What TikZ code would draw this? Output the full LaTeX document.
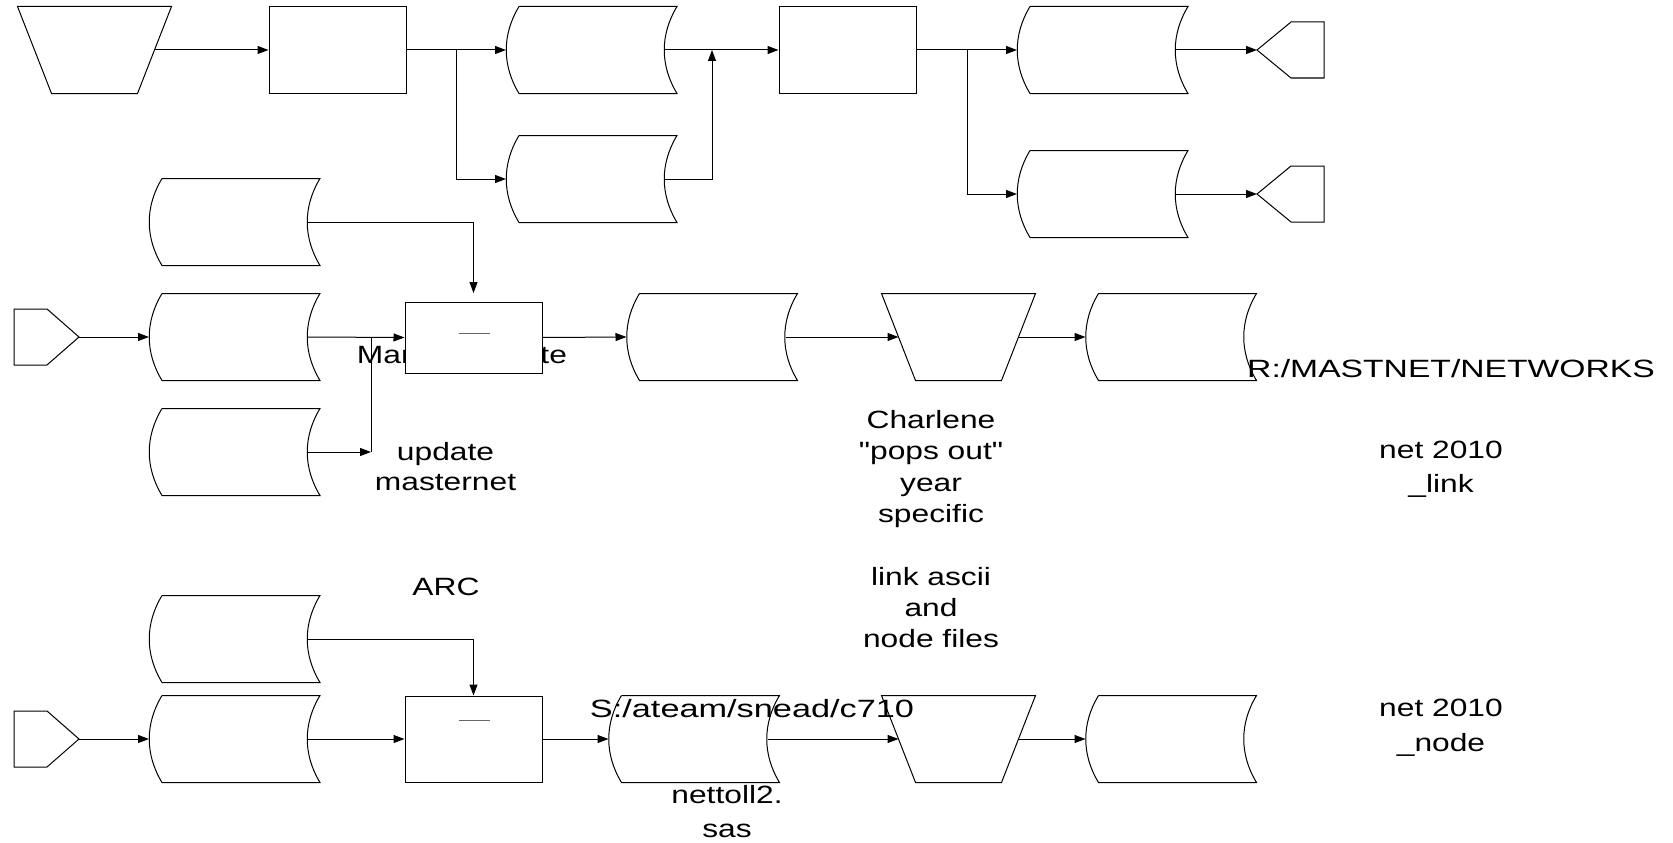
\documentclass[tikz,border=0pt]{standalone}
\usepackage{fontspec}
\setmainfont{Liberation Sans}[Ligatures=TeXOff]
\usetikzlibrary{calc}
\usetikzlibrary{positioning}
\usetikzlibrary{arrows.meta}

\begin{document}
\begin{tikzpicture}[x=1pt,y=-1pt,line width=1pt,>={Triangle[length=11pt,width=8pt]},
  store/.style={minimum width=158,minimum height=86,inner sep=0},
  proc/.style={draw,fill=white,minimum width=137,minimum height=86,inner sep=0},
  manop/.style={minimum width=119,minimum height=86,inner sep=0},
  txt/.style={font=\fontsize{25}{33}\selectfont,align=center,inner sep=0,xscale=1.27}]
\useasboundingbox (0,0) rectangle (1673,843);

% top row
\node[manop] (t1) at (94.5,50) {};
\node[proc] (r1) at (337.5,50) {};
\node[store] (sd1) at (585.5,50) {};
\node[store] (sd2) at (585.5,179) {};
\node[proc] (r2) at (847.5,50) {};
\node[store] (sd3) at (1096.5,50) {};
\node[store] (sd4) at (1096.5,194) {};
\coordinate (b1) at (456,50);
\coordinate (j1) at (712,50);
\coordinate (b2) at (967,50);
\coordinate (out1) at (1257,50);
\coordinate (out2) at (1257,194);

% masternet row
\node[txt,anchor=base] (lblman) at (462,363) {Manual update};
\node[store] (sd5) at (228.5,222) {};
\node[store] (sd6) at (228.5,337) {};
\node[store] (sd7) at (228.5,452) {};
\node[proc,minimum height=71] (r3) at (473.5,337.5) {};
\node[store] (sd8) at (706,337) {};
\node[manop] (t2) at (958.5,337) {};
\node[store] (sd9) at (1165,337) {};
\coordinate (in1) at (79,337);
\coordinate (r3in) at (473.5,293);
\coordinate (j2) at (371,452);
\coordinate (j3) at (371,337);

% node row
\node[store] (sd10) at (228.5,639) {};
\node[store] (sd11) at (228.5,739) {};
\node[proc] (r4) at (473.5,739) {};
\node[store] (sd12) at (688,739) {};
\node[manop] (t3) at (958.5,739) {};
\node[store] (sd13) at (1165,739) {};
\coordinate (in2) at (79,739);

% stored data outlines
\foreach \s in {sd1,sd2,sd3,sd4,sd5,sd6,sd7,sd8,sd9,sd10,sd11,sd12,sd13}
  \draw ($(\s.north west)+(13,0)$) -- ($(\s.north east)+(12,0)$)
    .. controls +(-17,28) and +(-17,-28) .. ($(\s.south east)+(12,0)$)
    -- ($(\s.south west)+(13,0)$)
    .. controls +(-17,-28) and +(-17,28) .. ($(\s.north west)+(13,0)$);

% manual operation outlines
\foreach \t in {t1,t2,t3}
  \draw ($(\t.north west)+(-17,0)$) -- ($(\t.north east)+(17,0)$)
    -- ($(\t.south east)+(-17,0)$) -- ($(\t.south west)+(17,0)$) -- cycle;

% off page connectors
\foreach \c in {in1,in2}
  \draw (\c) -- ++(-32,-28) -- ++(-33,0) -- ++(0,56) -- ++(33,0) -- cycle;
\foreach \c in {out1,out2}
  \draw (\c) -- ++(34,-28) -- ++(33,0) -- ++(0,56) -- ++(-33,0) -- cycle;

\draw[black!60] ($(r3.north)+(-15,32)$) -- +(31,0);
\draw[black!60] ($(r4.north)+(-15,25)$) -- +(31,0);

% connectors
\draw[->] (t1.east) -- (r1.west);
\draw[->] (r1.east) -- (sd1.west);
\draw[->] (b1) |- (sd2.west);
\draw[->] (sd1.east) -- (r2.west);
\draw[->] (sd2.east) -| (j1);
\draw[->] (r2.east) -- (sd3.west);
\draw[->] (b2) |- (sd4.west);
\draw[->] (sd3.east) -- (out1);
\draw[->] (sd4.east) -- (out2);

\draw[->] (sd5.east) -| (r3in);
\draw[->] (in1) -- (sd6.west);
\draw[->] (sd6.east) -- (r3.west);
\draw[->] (sd7.east) -- (j2);
\draw (j2) -- (j3);
\draw[->] (r3.east) -- (sd8.west);
\draw[->] (sd8.east) -- (t2.west);
\draw[->] (t2.east) -- (sd9.west);

\draw[->] (sd10.east) -| (r4.north);
\draw[->] (in2) -- (sd11.west);
\draw[->] (sd11.east) -- (r4.west);
\draw[->] (r4.east) -- (sd12.west);
\draw[->] (sd12.east) -- (t3.west);
\draw[->] (t3.east) -- (sd13.west);

% labels
\node[txt,anchor=north,font=\fontsize{25}{30}\selectfont] (lblupd) at (445.5,442) {update\\masternet};
\node[txt,anchor=base] (lblarc) at (446,595) {ARC};
\node[txt,anchor=north,font=\fontsize{25}{31.3}\selectfont] (lblcha) at (931,410) {Charlene\\"pops out"\\year\\specific\\[31.3pt]link ascii\\and\\node files};
\node[txt,anchor=base,xscale=1.06] (lblpath) at (1451,377) {R:/MASTNET/NETWORKS};
\node[txt,anchor=north,font=\fontsize{25}{34}\selectfont] (lbllink) at (1441,441) {net 2010\\\_link};
\node[txt,anchor=base,xscale=1.08] (lblsnead) at (752,717) {S:/ateam/snead/c710};
\node[txt,anchor=north,font=\fontsize{25}{34}\selectfont] (lblsas) at (727,785) {nettoll2.\\sas};
\node[txt,anchor=north,font=\fontsize{25}{35}\selectfont] (lblnode) at (1441,699) {net 2010\\\_node};
\end{tikzpicture}
\end{document}
